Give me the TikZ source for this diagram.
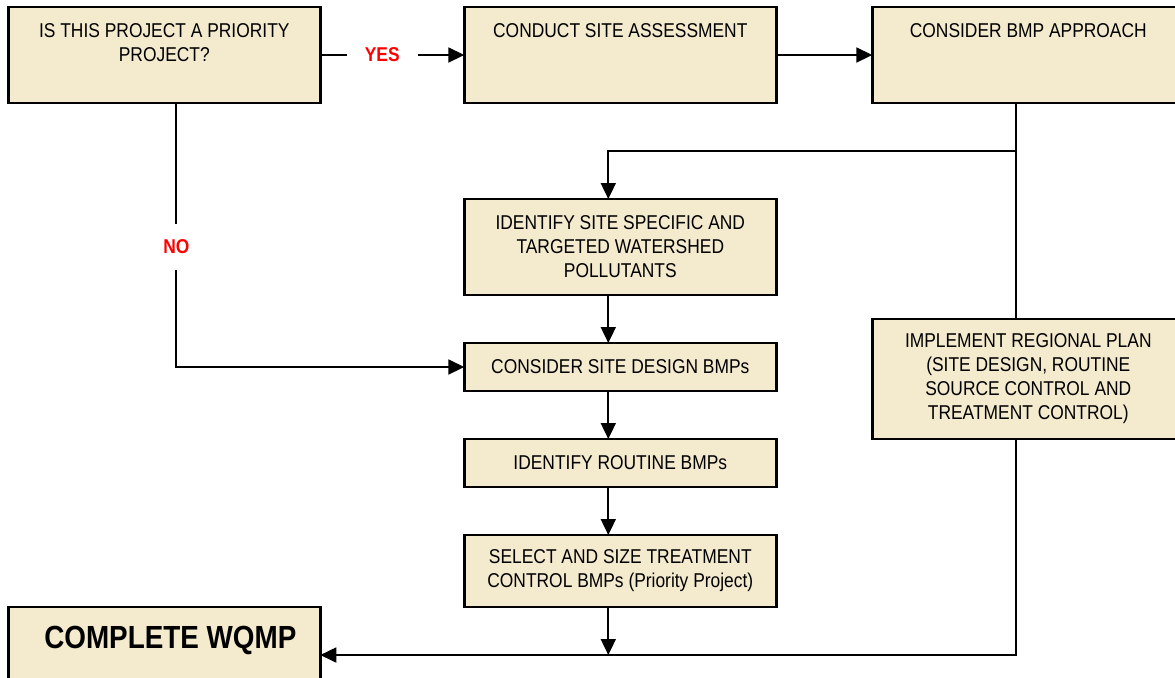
\documentclass[tikz,border=0pt]{standalone}
\usepackage{fontspec}
\setmainfont{Liberation Sans}[FakeStretch=0.87]
\usepackage{xcolor}
\usepackage{tikz}
\usetikzlibrary{arrows.meta,positioning}

\definecolor{boxfill}{RGB}{244,234,206}

\begin{document}
\begin{tikzpicture}[
    every node/.style={font=\normalsize},
    stepbox/.style={
      rectangle, draw=black, line width=1.2pt, fill=boxfill,
      minimum width=156pt, outer sep=0pt, inner sep=2pt, align=center
    },
    topbox/.style={stepbox, minimum height=48pt},
    toptext/.style={anchor=north, align=center, inner sep=0pt, yshift=-8pt},
    answer/.style={fill=white, text=red, font=\bfseries, inner xsep=9pt, inner ysep=8pt},
    conn/.style={-{Triangle[length=8pt, width=7.5pt]}, line width=0.9pt},
    plainline/.style={line width=0.9pt}
  ]
    \path[use as bounding box] (0,0) rectangle (587.5pt,-338.5pt);
    \clip (0,0) rectangle (587.5pt,-338.5pt);

    % Top row
    \node[topbox, anchor=north west,
      label={[toptext]north:{IS THIS PROJECT A PRIORITY\\PROJECT?}}] (b1) at (4.15pt,-3.5pt) {};
    \node[topbox, right=72pt of b1,
      label={[toptext]north:{CONDUCT SITE ASSESSMENT}}] (b2) {};
    \node[topbox, right=48pt of b2,
      label={[toptext]north:{CONSIDER BMP APPROACH}}] (b3) {};

    % Middle column
    \node[stepbox, minimum height=48pt, below=48pt of b2] (b4) {IDENTIFY SITE SPECIFIC AND\\TARGETED WATERSHED\\POLLUTANTS};
    \node[stepbox, minimum height=24pt, below=24pt of b4] (b5) {CONSIDER SITE DESIGN BMPs};
    \node[stepbox, minimum height=24pt, below=24pt of b5] (b6) {IDENTIFY ROUTINE BMPs};
    \node[stepbox, minimum height=36pt, below=24pt of b6] (b7) {SELECT AND SIZE TREATMENT\\CONTROL BMPs (Priority Project)};

    % Regional plan
    \node[stepbox, minimum height=60pt, below=108pt of b3] (b8) {IMPLEMENT REGIONAL PLAN\\(SITE DESIGN, ROUTINE\\SOURCE CONTROL AND\\TREATMENT CONTROL)};

    % Final box
    \node[topbox, below=252pt of b1,
      label={[toptext, yshift=-1.5pt, xshift=3pt, font=\fontsize{16}{19}\selectfont\bfseries]north:{COMPLETE WQMP}}] (b9) {};

    % Top flow
    \draw[conn] (b1) -- node[answer, pos=0.43]{YES} (b2);
    \draw[conn] (b2) -- (b3);

    % Branch from BMP approach
    \coordinate (split) at ([xshift=-6pt, yshift=-24pt]b3.south);
    \draw[plainline] ([xshift=-6pt]b3.south) -- ([xshift=-6pt]b8.north);
    \draw[conn] (split) -| ([xshift=-6pt]b4.north);

    % No branch
    \draw[conn] ([xshift=6pt]b1.south) |- node[answer, pos=0.272]{NO} (b5.west);

    % Vertical flow
    \draw[conn] ([xshift=-6pt]b4.south) -- ([xshift=-6pt]b5.north);
    \draw[conn] ([xshift=-6pt]b5.south) -- ([xshift=-6pt]b6.north);
    \draw[conn] ([xshift=-6pt]b6.south) -- ([xshift=-6pt]b7.north);
    \draw[conn] ([xshift=-6pt]b7.south) -- ([xshift=-6pt]b7.south |- b9.east);

    % Back to the final box
    \draw[conn] ([xshift=-6pt]b8.south) |- (b9.east);

  \end{tikzpicture}
\end{document}
